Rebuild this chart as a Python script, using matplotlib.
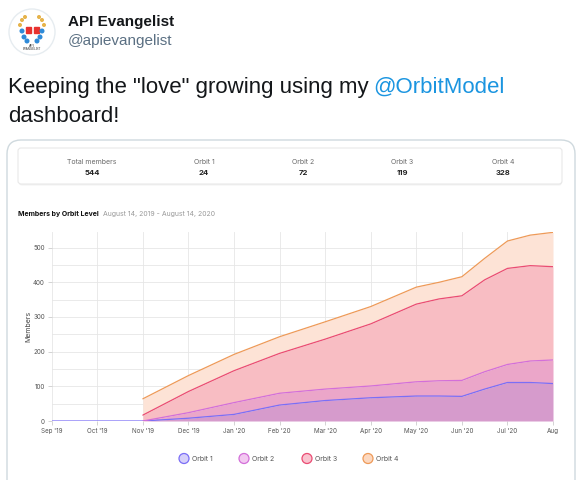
import numpy as np
import matplotlib
matplotlib.use("Agg")
import matplotlib.pyplot as plt
from matplotlib.patches import FancyBboxPatch, Circle, Rectangle

# ---------------------------------------------------------------------
# data (month index: 0 = Sep '19)
# ---------------------------------------------------------------------
months = [0, 1, 2, 3, 4, 5, 6, 7, 8, 8.5, 9, 9.5, 10, 10.5, 11]
orbit1 = [0, 0, 0, 8, 19, 46, 59, 67, 72, 72, 71, 92, 111, 111, 108]
orbit2 = [np.nan, np.nan, 0, 24, 53, 80, 92, 101, 113, 116, 117, 142, 163, 173, 176]
orbit3 = [np.nan, np.nan, 17, 85, 145, 195, 236, 280, 337, 352, 361, 407, 440, 448, 445]
orbit4 = [np.nan, np.nan, 64, 131, 192, 243, 286, 330, 386, 400, 416, 469, 519, 536, 544]

tick_pos = list(range(12))
tick_labels = ["Sep '19", "Oct '19", "Nov '19", "Dec '19", "Jan '20", "Feb '20",
               "Mar '20", "Apr '20", "May '20", "Jun '20", "Jul '20", "Aug"]

stat_labels = ["Total members", "Orbit 1", "Orbit 2", "Orbit 3", "Orbit 4"]
stat_values = ["544", "24", "72", "119", "328"]

series_names = ["Orbit 1", "Orbit 2", "Orbit 3", "Orbit 4"]
line_colors = ["#7b6ef6", "#d36fd9", "#ea4c73", "#ee9a58"]
band_colors = ["#d69bcc", "#eba6c9", "#f8bdc3", "#fde3d6"]
legend_faces = ["#d6d0fa", "#f3c9f1", "#f9c3cf", "#fcd8c0"]

W, H = 586, 480
fig = plt.figure(figsize=(W / 100, H / 100), dpi=100)

# pixel-space background axes for the tweet chrome
bg = fig.add_axes([0, 0, 1, 1])
bg.set_xlim(0, W)
bg.set_ylim(H, 0)
bg.axis("off")

TW = "Liberation Sans"
UI = "Inter"

# avatar
bg.add_patch(Circle((32, 32), 23, facecolor="white", edgecolor="#e6ecf0", lw=1))
for dx, c in [(-6, "#e8322f"), (2, "#e8322f")]:
    bg.add_patch(Rectangle((32 + dx, 27), 5, 6, color=c))
for x, y in [(24, 37), (27, 41), (37, 41), (40, 37), (22, 31), (42, 31)]:
    bg.add_patch(Circle((x, y), 1.8, color="#2e8ad8"))
for x, y in [(22, 20), (25, 17), (39, 17), (42, 20), (20, 25), (44, 25)]:
    bg.add_patch(Circle((x, y), 1.3, color="#e6b34a"))
bg.text(32, 46, "API", fontsize=2.5, ha="center", va="center", family=TW, color="#333")
bg.text(32, 49, "EVANGELIST", fontsize=2.2, ha="center", va="center", family=TW, color="#333")

bg.text(68, 26, "API Evangelist", fontsize=11, fontweight="bold", family=TW,
        color="#14171a", va="baseline")
bg.text(68, 45, "@apievangelist", fontsize=11, family=TW, color="#5b7083",
        va="baseline")

t1 = bg.text(8, 93, 'Keeping the "love" growing using my', fontsize=16,
             family=TW, color="#14171a", va="baseline")
fig.canvas.draw()
ext = t1.get_window_extent(fig.canvas.get_renderer())
bg.text(ext.x1 + 5, 93, "@OrbitModel", fontsize=16, family=TW,
        color="#1b95e0", va="baseline")
bg.text(8, 122, "dashboard!", fontsize=16, family=TW, color="#14171a",
        va="baseline")

# media card
bg.add_patch(FancyBboxPatch((7, 140), 568, 380,
                            boxstyle="round,pad=0,rounding_size=14",
                            facecolor="white", edgecolor="#cfd9de", lw=1))

# stats box
bg.add_patch(FancyBboxPatch((19, 149.5), 543, 36,
                            boxstyle="round,pad=0,rounding_size=3",
                            facecolor="#f2f2f2", edgecolor="none"))
bg.add_patch(FancyBboxPatch((18, 148), 544, 36,
                            boxstyle="round,pad=0,rounding_size=3",
                            facecolor="white", edgecolor="#e8e8e8", lw=0.8))
stat_x = [92, 204, 303, 402, 503]
for x, lab, val in zip(stat_x, stat_labels, stat_values):
    bg.text(x, 161.5, lab, fontsize=5, family=UI, color="#6b6b6b",
            ha="center", va="center")
    bg.text(x, 173, val, fontsize=5.5, family=UI, color="#222",
            fontweight="bold", ha="center", va="center")

tt = bg.text(18, 214, "Members by Orbit Level", fontsize=5, family=UI,
             fontweight="bold", color="#111", va="center")
fig.canvas.draw()
ext = tt.get_window_extent(fig.canvas.get_renderer())
bg.text(ext.x1 + 4, 214, "August 14, 2019 - August 14, 2020", fontsize=5,
        family=UI, color="#9a9a9a", va="center")

# legend
leg_x = [184, 244, 307, 368]
for x, name, lc, fc in zip(leg_x, series_names, line_colors, legend_faces):
    bg.add_patch(Circle((x, 458.5), 5, facecolor=fc, edgecolor=lc, lw=0.9))
    bg.text(x + 8, 459, name, fontsize=5, family=UI, color="#555",
            va="center")

# ---------------------------------------------------------------------
# chart
# ---------------------------------------------------------------------
ax = fig.add_axes([51.7 / W, 59 / H, (553 - 51.7) / W, (421 - 232) / H])
ax.set_xlim(0, 11)
ax.set_ylim(0, 545)

x = np.array(months)
levels = [np.array(orbit1, float), np.array(orbit2, float),
          np.array(orbit3, float), np.array(orbit4, float)]
start = x >= 2
lower = np.zeros_like(x)
for lvl, bc in zip(levels, band_colors):
    ax.fill_between(x[start], lower[start], lvl[start], color=bc, lw=0, zorder=1)
    lower = lvl
for lvl, lc in zip(levels, line_colors):
    ax.plot(x, lvl, color=lc, lw=0.9, zorder=3, solid_capstyle="round")

ax.set_yticks(range(0, 501, 100))
ax.set_yticks(range(0, 546, 50), minor=True)
ax.set_xticks(tick_pos)
ax.set_xticklabels(tick_labels)
ax.grid(True, which="both", color="#e6e6e6", lw=0.6, zorder=0)
ax.set_axisbelow(True)
for s in ax.spines.values():
    s.set_visible(False)
ax.tick_params(axis="both", which="major", labelsize=4.5, labelcolor="#555",
               color="#cccccc", length=3, width=0.6, pad=2)
ax.tick_params(axis="y", which="minor", length=0)
for lab in ax.get_xticklabels() + ax.get_yticklabels():
    lab.set_family(UI)
ax.set_ylabel("Members", fontsize=5, family=UI, color="#444", labelpad=1)

fig.savefig("out.png", dpi=100)
